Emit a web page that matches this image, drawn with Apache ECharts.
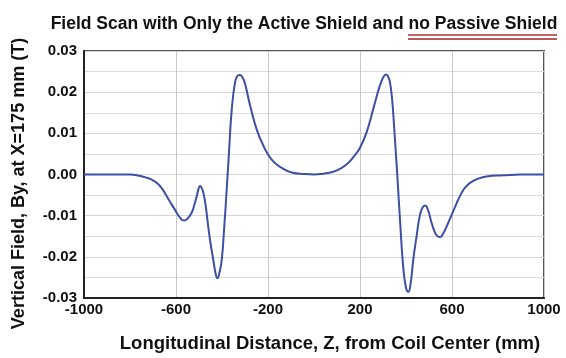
<!DOCTYPE html>
<html>
<head>
<meta charset="utf-8">
<script src="https://cdn.jsdelivr.net/npm/echarts@6/dist/echarts.min.js"></script>
<style>
  html, body { margin: 0; padding: 0; background: #fff; }
  #chart { width: 566px; height: 358px; }
</style>
</head>
<body>
<div id="chart"></div>
<script>
// longitudinal distance Z (mm) and field By (T)
const zValues = [
  -1000, -900, -800, -760, -727, -700, -680, -660, -640, -620, -604, -585, -565, -548, -532,
  -520, -510, -502, -496, -489, -481, -470, -460, -449, -438, -428, -420, -411, -401,
  -390, -380, -370, -358, -343, -332, -322, -311, -300, -278, -249, -220, -184, -140,
  -97, -39, 0, 40, 80, 113, 145, 171, 200, 229, 258, 287, 303, 313, 322, 330, 340,
  348, 355, 362, 375, 388, 400, 410, 420, 432, 446, 460, 472, 483, 495, 510, 525,
  537, 548, 560, 580, 600, 620, 635, 650, 665, 685, 710, 750, 823, 900, 1000
]
const byValues = [
  0, 0, 0, -0.0003, -0.0008, -0.0014, -0.0022, -0.0035, -0.0053, -0.0072, -0.0086, -0.0103, -0.0112, -0.0106, -0.0093,
  -0.0073, -0.0053, -0.0035, -0.0028, -0.0032, -0.0044, -0.0080, -0.0126, -0.0170, -0.0207, -0.0240, -0.0252, -0.0238, -0.0207,
  -0.0125, -0.0040, 0.0050, 0.0155, 0.0225, 0.0240, 0.0242, 0.0236, 0.0221, 0.0168, 0.0109, 0.0070, 0.0036, 0.0016,
  0.0005, 0.0001, 0, 0.0002, 0.0006, 0.0014, 0.0026, 0.0042, 0.0065, 0.0103, 0.0160, 0.0217, 0.0238, 0.0243, 0.0238, 0.0225, 0.0180,
  0.0119, 0.0060, 0.0000, -0.0120, -0.0225, -0.0275, -0.0285, -0.0265, -0.0205, -0.0150, -0.0100, -0.0080, -0.0075, -0.0085, -0.0115, -0.0140,
  -0.0150, -0.0152, -0.0145, -0.0122, -0.0096, -0.0070, -0.0052, -0.0037, -0.0027, -0.0018, -0.0011, -0.0005, -0.0002, 0, 0
]
const xTicks = [-1000, -600, -200, 200, 600, 1000]
const yTicks = [-0.03, -0.02, -0.01, 0, 0.01, 0.02, 0.03]

const chart = echarts.init(document.getElementById('chart'))
const font = '"Liberation Sans", Arial, sans-serif'

const option = {
  animation: false,
  title: {
    text: '{a|Field Scan with Only the Active Shield and }{b|no Passive Shield}',
    left: 299,
    textAlign: 'center',
    top: 10,
    textStyle: {
      rich: {
        a: { fontFamily: font, fontWeight: 'bold', fontSize: 17.5, color: '#111' },
        b: { fontFamily: font, fontWeight: 'bold', fontSize: 17.5, color: '#111' }
      }
    }
  },
  graphic: [
    { type: 'line', shape: { x1: 408, y1: 35, x2: 557, y2: 35 }, style: { stroke: '#b03030', lineWidth: 1.5 } },
    { type: 'line', shape: { x1: 408, y1: 39, x2: 557, y2: 39 }, style: { stroke: '#a02020', lineWidth: 1.5 } }
  ],
  grid: {
    left: 84,
    right: 22,
    top: 51,
    bottom: 60,
    show: true,
    borderColor: '#555',
    borderWidth: 2
  },
  xAxis: {
    type: 'value',
    min: xTicks[0],
    max: xTicks[xTicks.length - 1],
    interval: 400,
    name: 'Longitudinal Distance, Z, from Coil Center (mm)',
    nameLocation: 'middle',
    nameGap: 36,
    nameTextStyle: {
      fontFamily: font, fontWeight: 'bold', fontSize: 18.5, color: '#111',
      padding: [0, 0, 0, 32]
    },
    axisLine: { show: true, onZero: false, lineStyle: { color: '#222', width: 2 } },
    axisTick: { show: false },
    axisLabel: {
      margin: 4, fontFamily: font, fontWeight: 'bold', fontSize: 15, color: '#111',
      formatter: v => String(v)
    },
    splitLine: { show: true, lineStyle: { color: '#c8c8c8', width: 1 } }
  },
  yAxis: {
    type: 'value',
    min: yTicks[0],
    max: yTicks[yTicks.length - 1],
    interval: 0.01,
    name: 'Vertical Field, By, at X=175 mm (T)',
    nameLocation: 'middle',
    nameGap: 56,
    nameTextStyle: {
      fontFamily: font, fontWeight: 'bold', fontSize: 18, color: '#111',
      padding: [0, 18, 0, 0]
    },
    axisLine: { show: true, onZero: false, lineStyle: { color: '#222', width: 2 } },
    axisTick: { show: false },
    minorTick: { show: false, splitNumber: 2 },
    minorSplitLine: { show: true, lineStyle: { color: '#dcdcdc', width: 1 } },
    axisLabel: {
      margin: 7,
      fontFamily: font, fontWeight: 'bold', fontSize: 15, color: '#111',
      formatter: v => v.toFixed(2)
    },
    splitLine: { show: true, lineStyle: { color: '#d4d4d4', width: 1 } }
  },
  series: [
    {
      type: 'line',
      data: zValues.map((z, i) => [z, byValues[i]]),
      smooth: 0.5,
      showSymbol: false,
      lineStyle: { color: '#3d4fa6', width: 2 }
    }
  ]
}

chart.setOption(option)
</script>
</body>
</html>
